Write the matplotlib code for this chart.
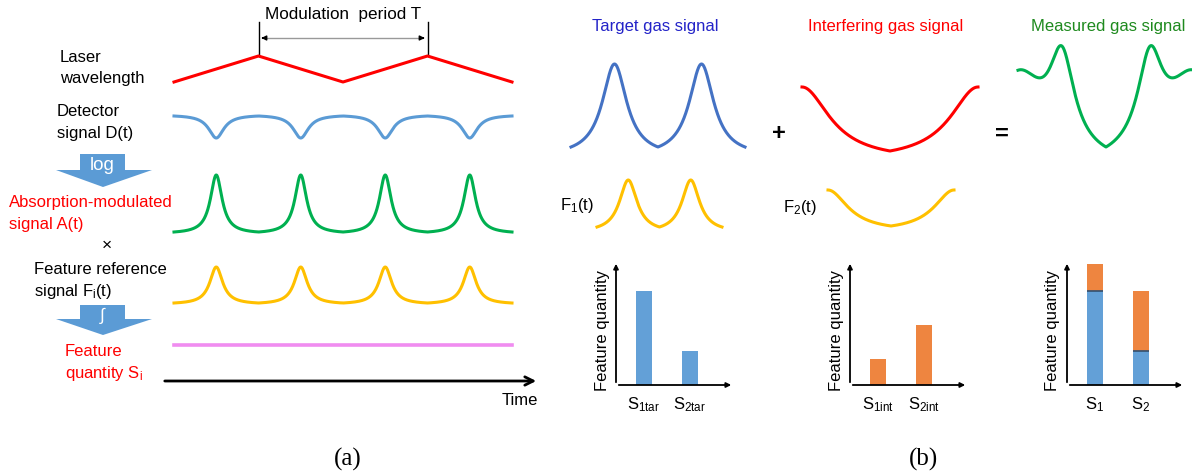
import numpy as np
import matplotlib
matplotlib.use('Agg')
import matplotlib.pyplot as plt
from matplotlib.patches import Polygon

plt.rcParams['font.family'] = ['Liberation Sans', 'DejaVu Sans']
plt.rcParams['mathtext.fontset'] = 'custom'
plt.rcParams['mathtext.rm'] = 'Liberation Sans'
plt.rcParams['mathtext.it'] = 'Liberation Sans:italic'
plt.rcParams['mathtext.default'] = 'regular'

# ---------------- data ----------------
# (a) time axis in units of the modulation period T
laser_t = [0.0, 0.5, 1.0, 1.5, 2.0]
laser_level = [0, 1, 0, 1, 0]
line_centers = [0.25, 0.75, 1.25, 1.75]      # absorption line crossings
detector_width = 0.055
absorb_width = 0.042
ref_width = 0.046
s_i_level = [1, 1]

# (b) wavelength axis, peak spacing = 1
target_centers = [0.5, 1.5]
target_width = 0.17
interf_centers = [0.0, 2.0]
interf_width = 0.38
meas_weights = [0.79, 0.76]                  # target, interfering

bar_names_tar = ['S$_{1tar}$', 'S$_{2tar}$']
bar_names_int = ['S$_{1int}$', 'S$_{2int}$']
bar_names_meas = ['S$_1$', 'S$_2$']
s_tar = [0.75, 0.27]
s_int = [0.21, 0.48]

RED = '#FF0000'
BLUE_L = '#5B9BD5'
BLUE_R = '#4472C4'
GREEN = '#00B050'
GOLD = '#FFC000'
PINK = '#F08CF0'
ORANGE = '#EE7F36'

W, H = 1192, 477
fig = plt.figure(figsize=(W / 100, H / 100), dpi=100)
canvas = fig.add_axes([0, 0, 1, 1])
canvas.set_xlim(0, W)
canvas.set_ylim(H, 0)
canvas.axis('off')


def inset(x0, x1, y_top, y_bot, xlim, ylim=(0, 1)):
    # pixel box -> axes; ylim = (value at bottom row, value at top row)
    ax = fig.add_axes([x0 / W, 1 - y_bot / H, (x1 - x0) / W, (y_bot - y_top) / H])
    ax.set_xlim(*xlim)
    ax.set_ylim(*ylim)
    ax.axis('off')
    return ax


def peak_train(x, centers, width, half):
    d = np.min(np.abs(np.subtract.outer(x, centers)), axis=1)
    lor = 1 / (1 + (d / width) ** 2)
    base = 1 / (1 + (half / width) ** 2)
    return (lor - base) / (1 - base)


LW = 2.2
FS = 12
txt = dict(fontsize=FS, va='center')

# ---------------- (a) ----------------
t = np.linspace(0, 2, 1200)
X0, X1 = 174, 512

ax = inset(X0, X1, 57, 83, (0, 2))
ax.plot(laser_t, laser_level, color=RED, lw=LW, clip_on=False)

ax = inset(X0, X1, 117, 139, (0, 2), (1, 0))
ax.plot(t, peak_train(t, line_centers, detector_width, 0.25), color=BLUE_L, lw=LW, clip_on=False)

ax = inset(X0, X1, 176, 233, (0, 2))
ax.plot(t, peak_train(t, line_centers, absorb_width, 0.25), color=GREEN, lw=LW, clip_on=False)

ax = inset(X0, X1, 268, 304, (0, 2))
ax.plot(t, peak_train(t, line_centers, ref_width, 0.25), color=GOLD, lw=LW, clip_on=False)

ax = inset(X0, X1, 346, 360, (0, 2))
ax.plot([0, 2], s_i_level, color=PINK, lw=LW + 0.4, clip_on=False)

# modulation period marker
px_per_t = (X1 - X0) / 2
pa, pb = X0 + laser_t[1] * px_per_t, X0 + laser_t[3] * px_per_t
for xp in (pa, pb):
    canvas.plot([xp, xp], [23, 57], color='black', lw=1)
canvas.plot([pa + 6, pb - 6], [39, 39], color='#999999', lw=1)
canvas.annotate('', xy=(pa, 39), xytext=(pa + 8, 39),
                arrowprops=dict(arrowstyle='-|>', color='black', lw=1, mutation_scale=7))
canvas.annotate('', xy=(pb, 39), xytext=(pb - 8, 39),
                arrowprops=dict(arrowstyle='-|>', color='black', lw=1, mutation_scale=7))
canvas.text((pa + pb) / 2, 15, 'Modulation  period T', ha='center', fontsize=12.3, va='center')

canvas.text(60, 58, 'Laser', **txt)
canvas.text(60, 79, 'wavelength', **txt)
canvas.text(57, 112, 'Detector', **txt)
canvas.text(57, 134, 'signal D(t)', **txt)
canvas.text(9, 203, 'Absorption-modulated', color=RED, **txt)
canvas.text(9, 225, 'signal A(t)', color=RED, **txt)
canvas.text(107, 245, '×', ha='center', fontsize=12.5, va='center')
canvas.text(34, 270, 'Feature reference', **txt)
canvas.text(34, 292, 'signal F$_i$(t)', **txt)
canvas.text(65, 352, 'Feature', color=RED, **txt)
canvas.text(65, 374, 'quantity S$_i$', color=RED, **txt)

# block arrows
for top, neck, tip, label, fs in [(155, 171, 188, 'log', 13.5), (306, 320, 336, '∫', 12.5)]:
    shape = [(80, top), (125, top), (125, neck), (152, neck), (103, tip),
             (56, neck), (80, neck)]
    canvas.add_patch(Polygon(shape, closed=True, facecolor=BLUE_L, edgecolor='none'))
    canvas.text(102, (top + neck) / 2 + 3, label, color='white', ha='center', va='center',
                fontsize=fs, family=['Liberation Sans', 'DejaVu Sans'])

canvas.annotate('', xy=(539, 382), xytext=(162, 382),
                arrowprops=dict(arrowstyle='->, head_length=0.6, head_width=0.3',
                                color='black', lw=2))
canvas.text(538, 401, 'Time', ha='right', **txt)
canvas.text(348, 459, '(a)', ha='center', va='center', fontsize=18, family='Liberation Serif')

# ---------------- (b) signals ----------------
u = np.linspace(0, 2, 800)
target = peak_train(u, target_centers, target_width, 0.5)
interf = peak_train(u, interf_centers, interf_width, 1.0)
measured = meas_weights[0] * target + meas_weights[1] * interf

ax = inset(571, 745, 65, 148, (0, 2))
ax.plot(u, target, color=BLUE_R, lw=LW, clip_on=False)
ax = inset(802, 978, 88, 152, (0, 2))
ax.plot(u, interf, color=RED, lw=LW, clip_on=False)
ax = inset(1018, 1194, 47, 148, (0, 2))
ax.plot(u, measured, color=GREEN, lw=LW, clip_on=False)
ax = inset(597, 722, 181, 228, (0, 2))
ax.plot(u, target, color=GOLD, lw=LW, clip_on=False)
ax = inset(828, 954, 191, 227, (0, 2))
ax.plot(u, interf, color=GOLD, lw=LW, clip_on=False)

canvas.text(655, 27, 'Target gas signal', ha='center', color='#2323C8', **txt)
canvas.text(886, 27, 'Interfering gas signal', ha='center', color=RED, **txt)
canvas.text(1108, 27, 'Measured gas signal', ha='center', color='#1E8A1E', **txt)
canvas.text(779, 134, '+', ha='center', va='center', fontsize=17, fontweight='bold')
canvas.text(1002, 134, '=', ha='center', va='center', fontsize=17, fontweight='bold')
canvas.text(560, 206, 'F$_1$(t)', ha='left', **txt)
canvas.text(783, 208, 'F$_2$(t)', ha='left', **txt)

# ---------------- (b) bar charts ----------------
PX_X = 46.0      # pixels per bar slot
PX_Y = 126.0     # pixels per unit of feature quantity
xl = (-28 / PX_X, 90 / PX_X)
yl = (0, 124 / PX_Y)
bw = 16 / PX_X


def bar_axes(x_axis):
    a = inset(x_axis, x_axis + 118, 262, 386, xl, yl)
    arrow = dict(arrowstyle='-|>', color='black', lw=1.3, mutation_scale=7)
    a.annotate('', xy=(xl[1], 0), xytext=(xl[0], 0), arrowprops=arrow, annotation_clip=False)
    a.annotate('', xy=(xl[0], yl[1]), xytext=(xl[0], 0), arrowprops=arrow, annotation_clip=False)
    a.text(xl[0] - 14 / PX_X, 0.44, 'Feature quantity', rotation=90, ha='center', va='center',
           fontsize=FS)
    return a


pos = np.arange(2)
for x_axis, vals, col, names in [(616, s_tar, BLUE_L, bar_names_tar),
                                 (850, s_int, ORANGE, bar_names_int)]:
    a = bar_axes(x_axis)
    a.bar(pos, vals, width=bw, color=col, alpha=0.95)
    for p, nm in zip(pos, names):
        a.text(p, -19 / PX_Y, nm, ha='center', va='center', fontsize=FS, clip_on=False)

a = bar_axes(1067)
a.bar(pos, s_tar, width=bw, color=BLUE_L, alpha=0.95)
a.bar(pos, s_int, width=bw, bottom=s_tar, color=ORANGE, alpha=0.95)
a.hlines(s_tar, pos - bw / 2, pos + bw / 2, color='#34506E', lw=1.2)
for p, nm in zip(pos, bar_names_meas):
    a.text(p, -19 / PX_Y, nm, ha='center', va='center', fontsize=FS, clip_on=False)

canvas.text(923, 459, '(b)', ha='center', va='center', fontsize=18, family='Liberation Serif')

fig.savefig('out.png', dpi=100)
